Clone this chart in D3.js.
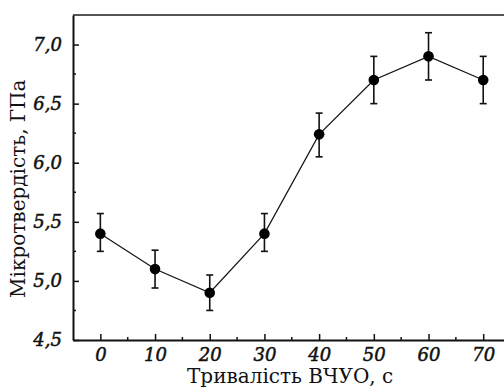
<!DOCTYPE html>
<html>
<head>
<meta charset="utf-8">
<script src="https://cdn.jsdelivr.net/npm/d3@7"></script>
<style>
  body { margin: 0; background: #fff; }
  text { font-family: "DejaVu Serif", serif; fill: #111; }
</style>
</head>
<body>
<div id="chart"></div>
<script>
// data
const times = [0, 10, 20, 30, 40, 50, 60, 70];
const hardness = [5.40, 5.10, 4.90, 5.40, 6.24, 6.70, 6.90, 6.70];
const errLow = [5.25, 4.94, 4.75, 5.25, 6.05, 6.50, 6.70, 6.50];
const errHigh = [5.57, 5.26, 5.05, 5.57, 6.42, 6.90, 7.10, 6.90];
const xTicks = [0, 10, 20, 30, 40, 50, 60, 70];
const yTicks = [4.5, 5.0, 5.5, 6.0, 6.5, 7.0];

const width = 504, height = 388;
const margin = {top: 15, right: 0, bottom: 48, left: 73};

const svg = d3.select("#chart").append("svg")
  .attr("width", width)
  .attr("height", height);

const x = d3.scaleLinear()
  .domain([-5, 73.8])
  .range([margin.left, width - margin.right]);

const y = d3.scaleLinear()
  .domain([4.5, 7.25])
  .range([height - margin.bottom, margin.top]);

const fmt = d => d.toFixed(1).replace(".", ",");

// top frame line
svg.append("line")
  .attr("x1", margin.left).attr("x2", width)
  .attr("y1", margin.top).attr("y2", margin.top)
  .attr("stroke", "#555").attr("stroke-width", 2);

// minor ticks
const xMinor = d3.range(5, 75, 10);
svg.append("g").selectAll("line").data(xMinor).join("line")
  .attr("x1", d => x(d)).attr("x2", d => x(d))
  .attr("y1", y(4.5)).attr("y2", y(4.5) - 3)
  .attr("stroke", "#111").attr("stroke-width", 1.5);
const yMinor = d3.range(4.75, 7.25, 0.5);
svg.append("g").selectAll("line").data(yMinor).join("line")
  .attr("x1", x(-5)).attr("x2", x(-5) + 3)
  .attr("y1", d => y(d)).attr("y2", d => y(d))
  .attr("stroke", "#111").attr("stroke-width", 1.5);

// bottom axis, ticks pointing in
const xAxis = svg.append("g")
  .attr("transform", `translate(0, ${y(4.5)})`)
  .call(d3.axisBottom(x).tickValues(xTicks).tickSizeInner(-6).tickSizeOuter(0).tickPadding(8));
xAxis.select(".domain").attr("stroke", "#111").attr("stroke-width", 2);
xAxis.selectAll(".tick line").attr("stroke", "#111").attr("stroke-width", 1.5);
xAxis.selectAll("text")
  .attr("font-size", 18).attr("font-style", "italic")
  .attr("stroke", "#111").attr("stroke-width", 0.5);

// left axis
const yAxis = svg.append("g")
  .attr("transform", `translate(${x(-5)}, 0)`)
  .call(d3.axisLeft(y).tickValues(yTicks).tickFormat(fmt).tickSizeInner(-6).tickSizeOuter(0).tickPadding(11));
yAxis.select(".domain").attr("stroke", "#111").attr("stroke-width", 2);
yAxis.selectAll(".tick line").attr("stroke", "#111").attr("stroke-width", 1.5);
yAxis.selectAll("text")
  .attr("font-size", 18).attr("font-style", "italic")
  .attr("stroke", "#111").attr("stroke-width", 0.5);

// axis titles
svg.append("text")
  .attr("x", x(34.7)).attr("y", height - 5)
  .attr("text-anchor", "middle")
  .attr("font-size", 20)
  .text("Тривалість ВЧУО, с");

svg.append("text")
  .attr("transform", `translate(25, ${y(5.78)}) rotate(-90)`)
  .attr("text-anchor", "middle")
  .attr("font-size", 20)
  .text("Мікротвердість, ГПа");

const pts = times.map((t, i) => ({t, v: hardness[i], lo: errLow[i], hi: errHigh[i]}));

// connecting line
svg.append("path")
  .datum(pts)
  .attr("fill", "none")
  .attr("stroke", "#111")
  .attr("stroke-width", 1.2)
  .attr("d", d3.line().x(d => x(d.t)).y(d => y(d.v)));

// error bars
const eb = svg.append("g").attr("stroke", "#111").attr("stroke-width", 1.6);
eb.selectAll(".v").data(pts).join("line")
  .attr("x1", d => x(d.t)).attr("x2", d => x(d.t))
  .attr("y1", d => y(d.lo)).attr("y2", d => y(d.hi));
eb.selectAll(".top").data(pts).join("line")
  .attr("x1", d => x(d.t) - 3.5).attr("x2", d => x(d.t) + 3.5)
  .attr("y1", d => y(d.hi)).attr("y2", d => y(d.hi));
eb.selectAll(".bot").data(pts).join("line")
  .attr("x1", d => x(d.t) - 3.5).attr("x2", d => x(d.t) + 3.5)
  .attr("y1", d => y(d.lo)).attr("y2", d => y(d.lo));

// points
svg.append("g").selectAll("circle").data(pts).join("circle")
  .attr("cx", d => x(d.t)).attr("cy", d => y(d.v))
  .attr("r", 5.3)
  .attr("fill", "#000");
</script>
</body>
</html>
